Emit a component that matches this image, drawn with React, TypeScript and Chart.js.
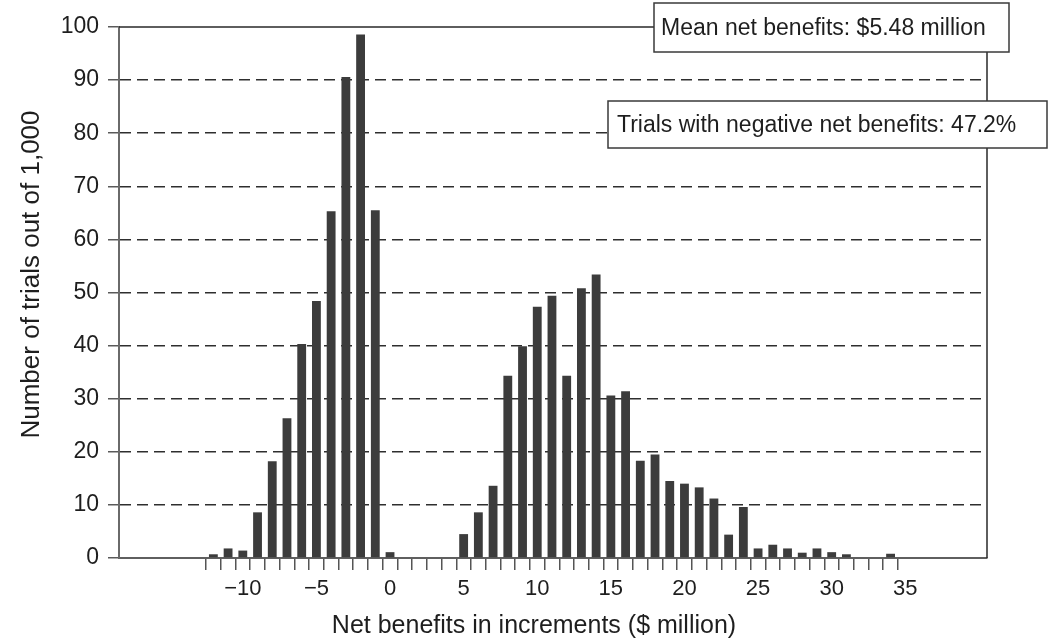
import React, { useEffect, useRef } from 'react';
import { Chart, registerables } from 'chart.js';

Chart.register(...registerables);

// ---- data ----
const bins = [
  -12, -11, -10, -9, -8, -7, -6, -5, -4, -3, -2, -1, 0, 1, 2, 3, 4, 5, 6, 7, 8, 9, 10, 11, 12,
  13, 14, 15, 16, 17, 18, 19, 20, 21, 22, 23, 24, 25, 26, 27, 28, 29, 30, 31, 32, 33, 34,
];
const trials = [
  0.7, 1.8, 1.4, 8.6, 18.2, 26.3, 40.3, 48.4, 65.3, 90.6, 98.6, 65.5, 1.1, 0, 0, 0, 0, 4.5, 8.6, 13.6, 34.3, 39.9, 47.3, 49.4, 34.3,
  50.8, 53.4, 30.6, 31.4, 18.3, 19.5, 14.5, 14.0, 13.3, 11.2, 4.4, 9.6, 1.8, 2.5, 1.8, 1.0, 1.8, 1.1, 0.7, 0, 0, 0.8,
];
const yTickValues = [0, 10, 20, 30, 40, 50, 60, 70, 80, 90, 100];
const xLabelValues = [-10, -5, 0, 5, 10, 15, 20, 25, 30, 35];
const binEdges = [...bins.map((b) => b - 0.5), bins[bins.length - 1] + 0.5];

const meanNote = 'Mean net benefits: $5.48 million';
const negativeNote = 'Trials with negative net benefits: 47.2%';
const xTitle = 'Net benefits in increments ($ million)';
const yTitle = 'Number of trials out of 1,000';

const FONT = "'Liberation Sans', Arial, Helvetica, sans-serif";
const TEXT = '#1e1e1e';

function drawNote(ctx: CanvasRenderingContext2D, x1: number, y1: number, x2: number, y2: number, text: string, padX: number) {
  ctx.fillStyle = '#ffffff';
  ctx.fillRect(x1, y1, x2 - x1, y2 - y1);
  ctx.strokeStyle = '#3a3a3a';
  ctx.lineWidth = 1.5;
  ctx.strokeRect(x1, y1, x2 - x1, y2 - y1);
  ctx.fillStyle = TEXT;
  ctx.font = `23px ${FONT}`;
  ctx.textAlign = 'left';
  ctx.textBaseline = 'middle';
  ctx.fillText(text, x1 + padX, (y1 + y2) / 2 + 1);
}

const overlayPlugin = {
  id: 'overlay',
  afterDraw(chart: any) {
    const { ctx, chartArea } = chart;
    const { left, right, top, bottom } = chartArea;
    ctx.save();
    // frame (top and right)
    ctx.strokeStyle = '#2a2a2a';
    ctx.lineWidth = 1.5;
    ctx.beginPath();
    ctx.moveTo(left, top);
    ctx.lineTo(right, top);
    ctx.lineTo(right, bottom);
    ctx.stroke();

    // notes
    drawNote(ctx, right - 333, top - 24, right + 22, top + 25, meanNote, 7);
    drawNote(ctx, right - 379, top + 74, right + 60, top + 121, negativeNote, 9);

    // axis titles
    ctx.fillStyle = TEXT;
    ctx.textAlign = 'center';
    ctx.textBaseline = 'middle';
    ctx.font = `25px ${FONT}`;
    ctx.fillText(xTitle, (left + right) / 2 - 19, 626);
    ctx.font = `26px ${FONT}`;
    ctx.translate(32, (top + bottom) / 2 - 18);
    ctx.rotate(-Math.PI / 2);
    ctx.fillText(yTitle, 0, 0);
    ctx.restore();
  },
};

export default function App() {
  const canvasRef = useRef<HTMLCanvasElement | null>(null);

  useEffect(() => {
    document.body.style.margin = '0';
    const canvas = canvasRef.current;
    if (!canvas) return;
    Chart.defaults.font.family = FONT;

    const chart = new Chart(canvas, {
      type: 'bar',
      data: {
        datasets: [
          {
            label: 'Trials',
            data: bins.map((b, i) => ({ x: b, y: trials[i] })),
            backgroundColor: '#3c3c3c',
            borderWidth: 0,
            barPercentage: 0.6,
            categoryPercentage: 1.0,
            xAxisID: 'x',
            yAxisID: 'y',
          },
        ],
      },
      options: {
        animation: false,
        responsive: false,
        maintainAspectRatio: false,
        layout: { padding: { top: 27, right: 69, left: 0, bottom: 0 } },
        plugins: {
          legend: { display: false },
          tooltip: { enabled: false },
          title: { display: false },
        },
        scales: {
          x: {
            type: 'linear',
            position: 'bottom',
            min: -18.41,
            max: 40.55,
            offset: false,
            weight: 0,
            grid: {
              offset: false,
              display: true,
              drawOnChartArea: false,
              drawTicks: true,
              tickLength: 12,
              tickColor: '#555555',
              tickWidth: 1.5,
              lineWidth: 1.5,
              color: '#555555',
            },
            border: { display: true, color: '#5f5f5f', width: 2 },
            ticks: { display: false },
            afterBuildTicks: (scale: any) => {
              scale.ticks = binEdges.map((v) => ({ value: v }));
            },
            afterFit: (scale: any) => {
              scale.height = 12;
            },
          },
          x2: {
            type: 'linear',
            position: 'bottom',
            min: -18.41,
            max: 40.55,
            offset: false,
            weight: 1,
            grid: { display: false, drawTicks: false, drawOnChartArea: false, offset: false },
            border: { display: false },
            ticks: {
              autoSkip: false,
              maxRotation: 0,
              padding: 6,
              color: TEXT,
              font: { size: 22, family: FONT },
              callback: (v: any) => (Number(v) < 0 ? '\u2212' + Math.abs(Number(v)) : String(v)),
            },
            afterBuildTicks: (scale: any) => {
              scale.ticks = xLabelValues.map((v) => ({ value: v }));
            },
            afterFit: (scale: any) => {
              scale.height = 74;
            },
          },
          y: {
            type: 'linear',
            min: 0,
            max: 100,
            grid: {
              color: (c: any) => (c.tick && (c.tick.value === 0 || c.tick.value === 100) ? 'rgba(0,0,0,0)' : '#2e2e2e'),
              lineWidth: 1.5,
              drawTicks: true,
              tickLength: 11,
              tickColor: '#5a5a5a',
              tickWidth: 1.5,
            },
            border: { display: true, color: '#6a6a6a', width: 2, dash: [11, 6] },
            ticks: {
              padding: 9,
              color: TEXT,
              font: { size: 23, family: FONT },
            },
            afterBuildTicks: (scale: any) => {
              scale.ticks = yTickValues.map((v) => ({ value: v }));
            },
            afterFit: (scale: any) => {
              scale.width = 119;
            },
          },
        },
      },
      plugins: [overlayPlugin],
    } as any);

    return () => {
      chart.destroy();
    };
  }, []);

  return (
    <div style={{ width: 1056, height: 644, position: 'relative', background: '#ffffff' }}>
      <canvas ref={canvasRef} width={1056} height={644} style={{ display: 'block', width: 1056, height: 644 }} />
    </div>
  );
}
